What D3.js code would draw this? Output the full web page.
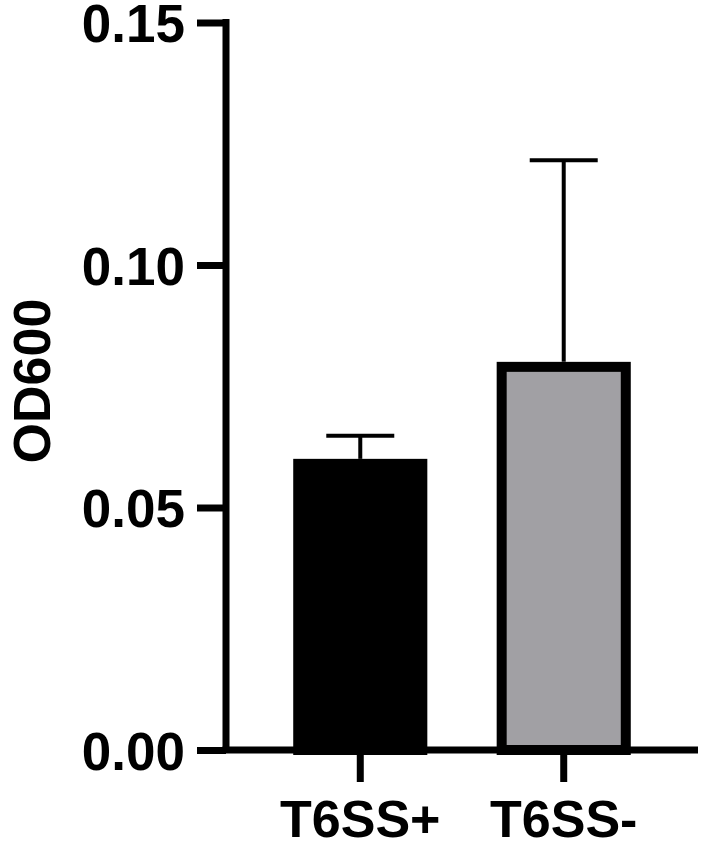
<!DOCTYPE html>
<html>
<head>
<meta charset="utf-8">
<script src="https://cdn.jsdelivr.net/npm/d3@7"></script>
<style>
  html, body { margin: 0; padding: 0; background: #fff; }
  svg text { font-family: "Liberation Sans", Arial, sans-serif; font-weight: bold; fill: #000; }
</style>
</head>
<body>
<svg id="chart"></svg>
<script>
// data
const groups = ["T6SS+", "T6SS-"];
const means = [0.059, 0.079];
const sds = [0.0058, 0.0426];
const fills = ["#000000", "#a1a0a4"];
const yTicks = [0.00, 0.05, 0.10, 0.15];

const width = 720, height = 844;
const svg = d3.select("#chart").attr("width", width).attr("height", height);

const axisX = 226, baseY = 750, topY = 22.5, rightX = 698;

const x = d3.scaleBand()
    .domain(groups)
    .range([axisX, rightX])
    .paddingInner(0.39)
    .paddingOuter(0.355);

const y = d3.scaleLinear()
    .domain([0, 0.15])
    .range([baseY, topY]);

// bars
svg.selectAll("rect.bar").data(groups)
  .join("rect")
    .attr("class", "bar")
    .attr("x", d => x(d))
    .attr("y", (d, i) => y(means[i]))
    .attr("width", x.bandwidth())
    .attr("height", (d, i) => y(0) - y(means[i]))
    .attr("fill", (d, i) => fills[i])
    .attr("stroke", "#000")
    .attr("stroke-width", 10);

// error bars (upper only)
const capW = 68;
const err = svg.append("g").attr("stroke", "#000").attr("stroke-width", 4);
groups.forEach((g, i) => {
  const cx = x(g) + x.bandwidth() / 2;
  err.append("line")
    .attr("x1", cx).attr("x2", cx)
    .attr("y1", y(means[i]) - 5).attr("y2", y(means[i] + sds[i]));
  err.append("line")
    .attr("x1", cx - capW / 2).attr("x2", cx + capW / 2)
    .attr("y1", y(means[i] + sds[i])).attr("y2", y(means[i] + sds[i]));
});

// y axis
const yAxis = d3.axisLeft(y)
    .tickValues(yTicks)
    .tickFormat(d3.format(".2f"))
    .tickSize(29)
    .tickPadding(12)
    .tickSizeOuter(0);

const yAxisG = svg.append("g")
    .attr("transform", `translate(${axisX},0)`)
    .call(yAxis);
yAxisG.select(".domain").attr("stroke", "#000").attr("stroke-width", 7)
    .attr("d", `M0,${topY - 3.5}V${baseY}`);
yAxisG.selectAll(".tick line").attr("stroke", "#000").attr("stroke-width", 7);
yAxisG.selectAll(".tick text")
    .attr("font-size", 53)
    .attr("dy", "0.36em")
    .style("font-family", "'Liberation Sans', Arial, sans-serif")
    .style("font-weight", "bold");

// x axis
const xAxis = d3.axisBottom(x)
    .tickSize(32)
    .tickPadding(10)
    .tickSizeOuter(0);

const xAxisG = svg.append("g")
    .attr("transform", `translate(0,${baseY})`)
    .call(xAxis);
xAxisG.select(".domain").attr("stroke", "#000").attr("stroke-width", 7)
    .attr("d", `M${axisX - 3.5},0H${rightX}`);
xAxisG.selectAll(".tick line").attr("stroke", "#000").attr("stroke-width", 7);
xAxisG.selectAll(".tick text")
    .attr("font-size", 52)
    .attr("dy", "0.71em")
    .attr("y", 50)
    .style("font-family", "'Liberation Sans', Arial, sans-serif")
    .style("font-weight", "bold");

// y label
svg.append("text")
    .attr("transform", `translate(50,381) rotate(-90)`)
    .attr("text-anchor", "middle")
    .attr("font-size", 52)
    .text("OD600");
</script>
</body>
</html>
